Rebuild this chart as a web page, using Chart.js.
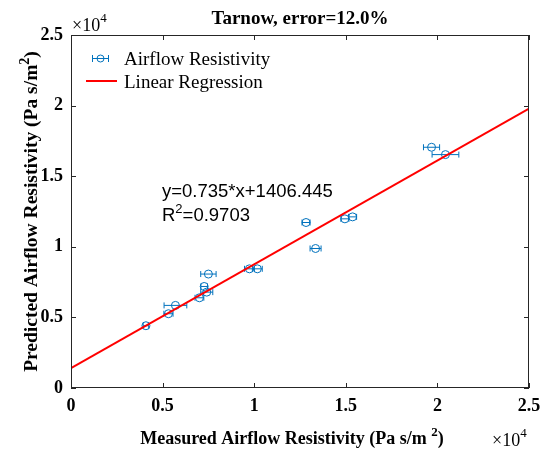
<!DOCTYPE html>
<html>
<head>
<meta charset="utf-8">
<script src="https://cdn.jsdelivr.net/npm/chart.js@4.4.0/dist/chart.umd.min.js"></script>
<style>
  html, body { margin: 0; padding: 0; background: #fff; }
  #wrap { width: 542px; height: 450px; }
</style>
</head>
<body>
<div id="wrap"><canvas id="grafico" width="542" height="450"></canvas></div>
<script>
// Tarnow - resistividade medida x prevista
const medido   = [4090, 5320, 5700, 7010, 7270, 7410, 7500, 9740, 10170, 12830, 13350, 14950, 15370, 19680, 20440];
const previsto = [4410, 5260, 5850, 6390, 7190, 6790, 8070, 8440, 8440, 11720, 9880, 11980, 12120, 17050, 16530];
const erroX    = [150, 250, 620, 240, 180, 330, 420, 270, 270, 220, 300, 220, 220, 440, 730];

// reta de regressao (y=0.735*x+1406.445) nas bordas do eixo
const retaX = [0, 25000];
const retaY = [1406, 19781];

const ticksEixo = [0, 5000, 10000, 15000, 20000, 25000];

const AZUL = '#0072BD';
const SERIF = "'Liberation Serif', 'Times New Roman', serif";
const SANS = "'Liberation Sans', Arial, sans-serif";

function textoSup(ctx, partes, x, y, alinhar) {
  // partes: [texto, sup?]
  let total = 0;
  const fonteBase = ctx.font;
  partes.forEach(p => {
    ctx.font = p.sup ? p.fonteSup : fonteBase;
    p.w = ctx.measureText(p.t).width;
    total += p.w;
  });
  let cx = x;
  if (alinhar === 'center') cx = x - total / 2;
  ctx.textAlign = 'left';
  partes.forEach(p => {
    ctx.font = p.sup ? p.fonteSup : fonteBase;
    ctx.fillText(p.t, cx, p.sup ? y - p.sup : y);
    cx += p.w;
  });
  ctx.font = fonteBase;
}

const extras = {
  id: 'extras',
  beforeDatasetsDraw(chart) {
    const ctx = chart.ctx;
    const sx = chart.scales.x, sy = chart.scales.y;
    ctx.save();
    ctx.strokeStyle = AZUL;
    ctx.lineWidth = 1;
    medido.forEach((m, i) => {
      const x1 = sx.getPixelForValue(m - erroX[i]);
      const x2 = sx.getPixelForValue(m + erroX[i]);
      const y = sy.getPixelForValue(previsto[i]);
      ctx.beginPath();
      ctx.moveTo(x1, y); ctx.lineTo(x2, y);
      ctx.moveTo(x1, y - 3); ctx.lineTo(x1, y + 3);
      ctx.moveTo(x2, y - 3); ctx.lineTo(x2, y + 3);
      ctx.stroke();
    });
    ctx.restore();
  },
  afterDraw(chart) {
    const ctx = chart.ctx;
    const a = chart.chartArea;
    const sx = chart.scales.x, sy = chart.scales.y;
    ctx.save();

    // caixa e ticks para dentro
    ctx.strokeStyle = '#262626';
    ctx.lineWidth = 1;
    ctx.strokeRect(a.left + 0.5, a.top + 0.5, a.right - a.left - 1, a.bottom - a.top - 1);
    ctx.beginPath();
    ticksEixo.forEach(v => {
      const px = Math.round(sx.getPixelForValue(v)) + 0.5;
      ctx.moveTo(px, a.bottom); ctx.lineTo(px, a.bottom - 5);
      ctx.moveTo(px, a.top); ctx.lineTo(px, a.top + 5);
      const py = Math.round(sy.getPixelForValue(v)) + 0.5;
      ctx.moveTo(a.left, py); ctx.lineTo(a.left + 5, py);
      ctx.moveTo(a.right, py); ctx.lineTo(a.right - 5, py);
    });
    ctx.stroke();

    ctx.fillStyle = '#000';
    ctx.textBaseline = 'alphabetic';

    // titulo
    ctx.font = 'bold 19px ' + SERIF;
    ctx.textAlign = 'center';
    ctx.fillText('Tarnow, error=12.0%', (a.left + a.right) / 2, 24);

    // x10^4
    ctx.font = '18px ' + SERIF;
    textoSup(ctx, [{ t: '\u00d710' }, { t: '4', sup: 9, fonteSup: '13px ' + SERIF }], 72, 31, 'left');
    textoSup(ctx, [{ t: '\u00d710' }, { t: '4', sup: 9, fonteSup: '13px ' + SERIF }], 492, 446, 'left');

    // rotulo eixo x
    ctx.font = 'bold 18px ' + SERIF;
    textoSup(ctx, [{ t: 'Measured Airflow Resistivity (Pa s/m ' },
                   { t: '2', sup: 8, fonteSup: 'bold 13px ' + SERIF },
                   { t: ')' }], 292, 444, 'center');

    // rotulo eixo y
    ctx.save();
    ctx.translate(37, (a.top + a.bottom) / 2);
    ctx.rotate(-Math.PI / 2);
    ctx.font = 'bold 19.5px ' + SERIF;
    textoSup(ctx, [{ t: 'Predicted Airflow Resistivity (Pa s/m' },
                   { t: '2', sup: 8, fonteSup: 'bold 14px ' + SERIF },
                   { t: ')' }], 0, 0, 'center');
    ctx.restore();

    // legenda
    ctx.strokeStyle = AZUL;
    ctx.lineWidth = 1;
    ctx.beginPath();
    ctx.moveTo(92, 58.5); ctx.lineTo(109, 58.5);
    ctx.moveTo(92.5, 55); ctx.lineTo(92.5, 62);
    ctx.moveTo(108.5, 55); ctx.lineTo(108.5, 62);
    ctx.stroke();
    ctx.beginPath();
    ctx.arc(100.5, 58.5, 3.5, 0, Math.PI * 2);
    ctx.stroke();
    ctx.strokeStyle = '#FF0000';
    ctx.lineWidth = 2;
    ctx.beginPath();
    ctx.moveTo(86, 81); ctx.lineTo(117, 81);
    ctx.stroke();
    ctx.font = '19px ' + SERIF;
    ctx.textAlign = 'left';
    ctx.fillText('Airflow Resistivity', 124, 65);
    ctx.fillText('Linear Regression', 124, 88);

    // equacao
    ctx.font = '18.5px ' + SANS;
    ctx.fillText('y=0.735*x+1406.445', 162, 197);
    textoSup(ctx, [{ t: 'R' }, { t: '2', sup: 8, fonteSup: '13px ' + SANS }, { t: '=0.9703' }], 162, 221, 'left');

    ctx.restore();
  }
};

new Chart(document.getElementById('grafico'), {
  type: 'scatter',
  data: {
    datasets: [
      {
        type: 'line',
        label: 'Linear Regression',
        data: retaX.map((x, i) => ({ x, y: retaY[i] })),
        borderColor: '#FF0000',
        borderWidth: 2,
        pointRadius: 0,
        fill: false,
        tension: 0
      },
      {
        label: 'Airflow Resistivity',
        data: medido.map((x, i) => ({ x, y: previsto[i] })),
        pointStyle: 'circle',
        pointRadius: 4,
        borderColor: AZUL,
        backgroundColor: 'rgba(0,0,0,0)',
        borderWidth: 1
      }
    ]
  },
  options: {
    responsive: false,
    animation: false,
    devicePixelRatio: 1,
    layout: { padding: { top: 35, right: 13, bottom: 0, left: 0 } },
    plugins: { legend: { display: false }, tooltip: { enabled: false } },
    scales: {
      x: {
        type: 'linear', min: 0, max: 25000,
        afterBuildTicks: s => { s.ticks = ticksEixo.map(v => ({ value: v })); },
        afterFit: s => { s.height = 62; s.paddingLeft = 0; s.paddingRight = 0; },
        grid: { display: false, drawTicks: false },
        border: { display: false },
        ticks: {
          callback: v => String(v / 10000),
          color: '#000', padding: 8, maxRotation: 0,
          font: { family: SERIF, size: 18, weight: 'bold' }
        }
      },
      y: {
        type: 'linear', min: 0, max: 25000,
        afterBuildTicks: s => { s.ticks = ticksEixo.map(v => ({ value: v })); },
        afterFit: s => { s.width = 71; s.paddingTop = 0; s.paddingBottom = 0; },
        grid: { display: false, drawTicks: false },
        border: { display: false },
        ticks: {
          callback: v => String(v / 10000),
          color: '#000', padding: 8,
          font: { family: SERIF, size: 18, weight: 'bold' }
        }
      }
    }
  },
  plugins: [extras]
});
</script>
</body>
</html>
